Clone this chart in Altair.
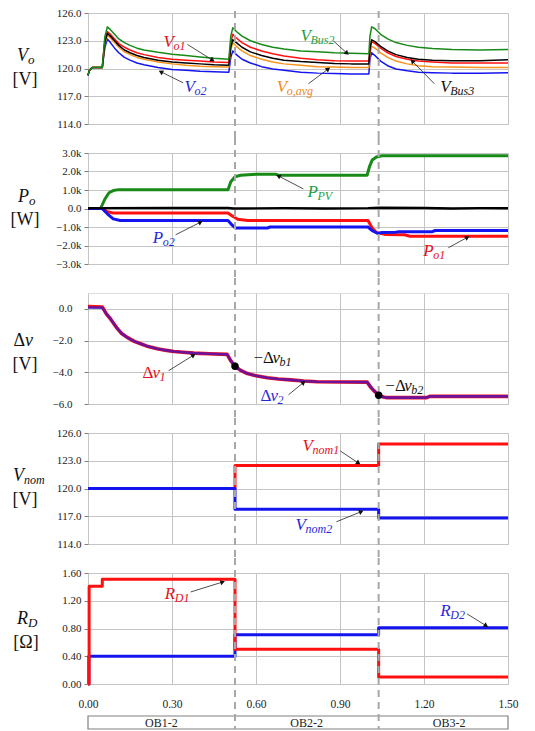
import math
import altair as alt
import pandas as pd

SERIF = "'Liberation Serif', 'Times New Roman', Times, serif"
RED, BLUE, GREEN, ORANGE, BLACK = "#FF1010", "#1414F0", "#178A17", "#F7941D", "#000000"
T_RED, T_BLUE, T_GREEN, T_ORANGE = "#E8101A", "#2828D8", "#23A047", "#F08A24"
GRID = "#c4c4c4"
BORDER = "#808080"

# ------------------------------------------------------------------ data
# panel 1 : output voltages [V]
t_vo = [0.000, 0.005, 0.015, 0.051, 0.060, 0.069, 0.080, 0.095, 0.110, 0.130, 0.150,
        0.175, 0.200, 0.250, 0.300, 0.350, 0.400, 0.450, 0.503, 0.510, 0.517, 0.530,
        0.550, 0.580, 0.620, 0.660, 0.700, 0.760, 0.820, 0.880, 0.940, 1.003, 1.007,
        1.013, 1.025, 1.045, 1.070, 1.100, 1.140, 1.180, 1.230, 1.300, 1.400, 1.500]
v_bus2 = [119.3, 119.8, 120.1, 120.1, 123.4, 124.5, 124.2, 123.7, 123.2, 122.8, 122.5,
          122.2, 122.0, 121.75, 121.55, 121.4, 121.25, 121.1, 121.0, 123.5, 124.4, 124.0,
          123.5, 123.0, 122.6, 122.3, 122.1, 121.9, 121.8, 121.7, 121.65, 121.6, 123.5,
          124.5, 124.3, 123.7, 123.2, 122.8, 122.5, 122.3, 122.15, 122.05, 122.0, 122.05]
v_o1 = [119.3, 119.8, 120.1, 120.1, 123.0, 124.0, 123.7, 123.2, 122.7, 122.3, 122.0,
        121.7, 121.5, 121.2, 121.0, 120.9, 120.8, 120.7, 120.65, 122.8, 123.7, 123.3,
        122.8, 122.3, 121.9, 121.6, 121.35, 121.1, 120.95, 120.85, 120.8, 120.8, 122.0,
        122.9, 122.7, 122.2, 121.7, 121.3, 121.0, 120.8, 120.7, 120.6, 120.6, 120.6]
v_bus3 = [119.3, 119.8, 120.1, 120.1, 122.8, 123.8, 123.5, 123.0, 122.5, 122.0, 121.7,
          121.4, 121.2, 120.9, 120.7, 120.6, 120.5, 120.4, 120.35, 122.3, 123.1, 122.8,
          122.3, 121.8, 121.4, 121.1, 120.9, 120.75, 120.65, 120.55, 120.5, 120.5, 122.2,
          123.1, 122.9, 122.4, 121.9, 121.5, 121.2, 121.0, 120.9, 120.85, 120.85, 120.95]
v_oavg = [119.3, 119.8, 120.1, 120.1, 122.6, 123.6, 123.3, 122.8, 122.3, 121.8, 121.5,
          121.2, 121.0, 120.7, 120.5, 120.35, 120.25, 120.2, 120.15, 122.0, 122.8, 122.4,
          121.9, 121.4, 121.0, 120.7, 120.5, 120.35, 120.2, 120.15, 120.1, 120.1, 121.6,
          122.4, 122.2, 121.7, 121.2, 120.8, 120.5, 120.3, 120.2, 120.15, 120.1, 120.1]
v_o2 = [119.2, 119.8, 120.1, 120.1, 122.2, 123.2, 122.8, 122.2, 121.7, 121.2, 120.9,
        120.6, 120.4, 120.1, 119.9, 119.8, 119.7, 119.65, 119.6, 121.2, 121.9, 121.5,
        121.0, 120.6, 120.2, 119.95, 119.8, 119.6, 119.5, 119.45, 119.4, 119.4, 121.0,
        121.7, 121.4, 120.8, 120.3, 119.95, 119.75, 119.6, 119.55, 119.5, 119.5, 119.55]

# panel 2 : powers [W]
t_ppv = [0, 0.045, 0.060, 0.075, 0.090, 0.110, 0.500, 0.510, 0.525, 0.545, 0.600,
         0.670, 0.680, 0.997, 1.005, 1.015, 1.030, 1.050, 1.500]
p_pv = [0, 0, 500, 850, 970, 1020, 1020, 1450, 1720, 1800, 1850,
        1850, 1800, 1800, 2250, 2620, 2780, 2850, 2850]
t_po1 = [0, 0.050, 0.070, 0.090, 0.500, 0.515, 0.535, 0.570, 1.000, 1.015, 1.030,
         1.060, 1.130, 1.150, 1.500]
p_o1 = [0, 0, -180, -240, -240, -400, -580, -650, -650, -1050, -1300,
        -1400, -1420, -1500, -1500]
t_po2 = [0, 0.050, 0.070, 0.090, 0.115, 0.500, 0.515, 0.527, 0.640, 0.650, 1.000,
         1.015, 1.035, 1.050, 1.100, 1.110, 1.230, 1.240, 1.500]
p_o2 = [0, 0, -300, -560, -650, -650, -900, -1060, -1060, -1000, -1000,
        -1200, -1350, -1300, -1280, -1250, -1250, -1190, -1190]
t_pbk = [0, 0.05, 0.30, 0.50, 0.52, 0.70, 0.85, 1.00, 1.04, 1.20, 1.30, 1.40, 1.50]
p_bk = [10, 20, 30, 30, 0, 20, 0, 20, 40, 30, 0, 20, 10]

# panel 3 : voltage deviation [V]
t_dv = [0, 0.051, 0.065, 0.081, 0.095, 0.105, 0.120, 0.140, 0.165, 0.188, 0.215,
        0.247, 0.280, 0.307, 0.340, 0.378, 0.430, 0.497, 0.509, 0.525, 0.545, 0.569,
        0.600, 0.640, 0.680, 0.723, 0.770, 0.818, 0.997, 1.010, 1.020, 1.038, 1.055,
        1.068, 1.210, 1.220, 1.500]
dv1 = [0.15, 0.12, -0.3, -0.65, -1.0, -1.25, -1.55, -1.8, -2.05, -2.2, -2.38,
       -2.52, -2.62, -2.69, -2.74, -2.79, -2.83, -2.87, -3.25, -3.62, -3.88, -4.08,
       -4.22, -4.34, -4.42, -4.48, -4.55, -4.6, -4.62, -4.95, -5.14, -5.45, -5.56,
       -5.6, -5.6, -5.52, -5.52]
dv2 = [0.08, 0.08, -0.3, -0.65, -1.0, -1.25, -1.55, -1.8, -2.05, -2.2, -2.38,
       -2.52, -2.62, -2.69, -2.74, -2.79, -2.83, -2.87, -3.25, -3.62, -3.88, -4.08,
       -4.22, -4.34, -4.42, -4.48, -4.55, -4.6, -4.62, -4.95, -5.14, -5.45, -5.56,
       -5.6, -5.6, -5.52, -5.52]
t_dvb = [0.525, 1.038]
dvb = [-3.62, -5.45]

# panel 4 : nominal voltages [V]
t_nom = [0, 0.525, 1.038, 1.5]
v_nom1 = [120.0, 122.5, 124.8, 124.8]
v_nom2 = [120.0, 117.75, 116.8, 116.8]

# panel 5 : droop resistances [Ohm]
t_rd1 = [0, 0.004, 0.051, 0.525, 1.038, 1.5]
r_d1 = [0, 1.41, 1.51, 0.50, 0.10, 0.10]
t_rd2 = [0, 0.003, 0.525, 1.038, 1.5]
r_d2 = [0, 0.40, 0.71, 0.81, 0.81]

t_switch = [0.525, 1.038]
ob_labels = ["OB1-2", "OB2-2", "OB3-2"]
ob_mid = [0.262, 0.781, 1.29]

x_ticks = [0, 0.3, 0.6, 0.9, 1.2, 1.5]

# ------------------------------------------------------------------ layout
W, H, GAP = 420, 111, 29
PX_T = W / 1.5
I, N = "italic", "normal"


def xenc(bottom=False):
    if bottom:
        ax = alt.Axis(values=x_ticks, format=".2f", title=None, grid=True, gridColor=GRID,
                      ticks=False, domain=False, labelPadding=14, labelFont=SERIF,
                      labelFontSize=11.5, labelColor="#222", labelFlush=False,
                      labelOverlap=False)
    else:
        ax = alt.Axis(values=x_ticks, labels=False, ticks=False, domain=False, title=None,
                      grid=True, gridColor=GRID)
    return alt.X("t:Q", scale=alt.Scale(domain=[0, 1.5], nice=False, zero=False), axis=ax)


def yenc(domain, values, fmt=None, expr=None, pad=3):
    kw = dict(values=values, title=None, grid=True, gridColor=GRID, domain=False,
              ticks=True, tickSize=4, tickColor=BORDER, labelFont=SERIF, labelFontSize=11,
              labelColor="#222", labelPadding=pad, labelFlush=False, labelOverlap=False)
    if fmt:
        kw["format"] = fmt
    if expr:
        kw["labelExpr"] = expr
    return alt.Y("v:Q", scale=alt.Scale(domain=domain, nice=False, zero=False), axis=alt.Axis(**kw))


def line(ts, vs, color, X, Y, width=2.8, interp="linear", opacity=1.0):
    df = pd.DataFrame({"t": ts, "v": vs})
    return alt.Chart(df).mark_line(color=color, strokeWidth=width, interpolate=interp,
                                   opacity=opacity, strokeJoin="round").encode(x=X, y=Y)


def switch_rules(X, top=-15, bottom=H + 14):
    df = pd.DataFrame({"t": t_switch})
    return alt.Chart(df).mark_rule(color="#a8a8a8", strokeWidth=2, strokeDash=[7, 5]).encode(
        x=X, y=alt.value(top), y2=alt.value(bottom))


def annotation(X, Y, pxv, t, v, pieces, color, a0=None, a1=None):
    layers = []
    df = pd.DataFrame({"t": [t], "v": [v]})
    for txt, dx, dy, size, style in pieces:
        layers.append(alt.Chart(df).mark_text(text=txt, dx=dx, dy=dy, fontSize=size,
                                              fontStyle=style, font=SERIF, align="left",
                                              baseline="middle", color=color)
                      .encode(x=X, y=Y))
    if a0 is not None:
        adf = pd.DataFrame({"t": [a0[0]], "v": [a0[1]], "t2": [a1[0]], "v2": [a1[1]]})
        layers.append(alt.Chart(adf).mark_rule(color="#222", strokeWidth=0.8).encode(
            x=X, y=Y, x2="t2:Q", y2="v2:Q"))
        ang = math.degrees(math.atan2((a1[0] - a0[0]) * PX_T, (a1[1] - a0[1]) * pxv)) % 360
        hdf = pd.DataFrame({"t": [a1[0]], "v": [a1[1]]})
        layers.append(alt.Chart(hdf).mark_point(shape="triangle-up", filled=True, size=28,
                                                color="#111", opacity=1, angle=ang)
                      .encode(x=X, y=Y))
    return layers


def ytitle(pieces):
    layers = []
    d = pd.DataFrame({"a": [0]})
    for txt, x, y, size, style, align in pieces:
        layers.append(alt.Chart(d).mark_text(text=txt, fontSize=size, fontStyle=style,
                                             font=SERIF, align=align, baseline="middle",
                                             color="#111")
                      .encode(x=alt.value(x), y=alt.value(y)))
    return layers


# ---------------- panel 1
X = xenc()
Y = yenc([114, 126], [114, 117, 120, 123, 126], fmt=".1f")
pxv = H / 12
p1 = [line(t_vo, v_o2, BLUE, X, Y, 1.5), line(t_vo, v_oavg, ORANGE, X, Y, 1.5),
      line(t_vo, v_o1, RED, X, Y, 1.5), line(t_vo, v_bus3, BLACK, X, Y, 1.5),
      line(t_vo, v_bus2, GREEN, X, Y, 1.5), switch_rules(X, top=-2)]
p1 += annotation(X, Y, pxv, 0.27, 122.9, [("V", 0, 0, 17, I), ("o1", 10, 4, 12, I)], T_RED,
                 (0.355, 122.6), (0.445, 120.9))
p1 += annotation(X, Y, pxv, 0.345, 118.05, [("V", 0, 0, 17, I), ("o2", 10, 4, 12, I)], T_BLUE,
                 (0.34, 118.45), (0.26, 119.65))
p1 += annotation(X, Y, pxv, 0.759, 123.5, [("V", 0, 0, 17, I), ("Bus2", 10, 4, 12, I)], T_GREEN,
                 (0.876, 123.0), (0.925, 121.65))
p1 += annotation(X, Y, pxv, 0.674, 118.05, [("V", 0, 0, 17, I), ("o,avg", 10, 4, 12, I)], T_ORANGE,
                 (0.787, 118.35), (0.858, 119.95))
p1 += annotation(X, Y, pxv, 1.258, 118.05, [("V", 0, 0, 17, I), ("Bus3", 10, 4, 12, I)], "#111",
                 (1.237, 118.35), (1.158, 120.8))
p1 += ytitle([("V", -60, 43, 18, I, "right"), ("o", -60, 47, 13, I, "left"),
              ("[V]", -63, 67, 18, N, "center")])
panel1 = alt.layer(*p1).properties(width=W, height=H)

# ---------------- panel 2
Y = yenc([-3000, 3000], [-3000, -2000, -1000, 0, 1000, 2000, 3000],
         expr="datum.value == 0 ? '0.0' : format(datum.value / 1000, '.1f') + 'k'")
pxv = H / 6000
p2 = [line(t_ppv, p_pv, GREEN, X, Y, 3), line(t_po1, p_o1, RED, X, Y, 3),
      line(t_po2, p_o2, BLUE, X, Y, 3), line(t_pbk, p_bk, BLACK, X, Y, 2.4), switch_rules(X)]
p2 += annotation(X, Y, pxv, 0.784, 900, [("P", 0, 0, 17, I), ("PV", 10, 4, 12, I)], T_GREEN,
                 (0.769, 1060), (0.68, 1760))
p2 += annotation(X, Y, pxv, 0.231, -1580, [("P", 0, 0, 17, I), ("o2", 10, 4, 12, I)], T_BLUE,
                 (0.313, -1420), (0.402, -740))
p2 += annotation(X, Y, pxv, 1.197, -2280, [("P", 0, 0, 17, I), ("o1", 10, 4, 12, I)], T_RED,
                 (1.287, -2120), (1.355, -1560))
p2 += ytitle([("P", -59, 44, 18, I, "right"), ("o", -59, 48, 13, I, "left"),
              ("[W]", -63, 67, 18, N, "center")])
panel2 = alt.layer(*p2).properties(width=W, height=H)

# ---------------- panel 3
Y = yenc([-6, 1], [-6, -4, -2, 0], fmt=".1f", pad=12)
pxv = H / 7
p3 = [line(t_dv, dv1, RED, X, Y, 3.6), line(t_dv, dv2, BLUE, X, Y, 2.6, opacity=0.62),
      switch_rules(X)]
p3.append(alt.Chart(pd.DataFrame({"t": t_dvb, "v": dvb})).mark_circle(size=55, color="#000", opacity=1)
          .encode(x=X, y=Y))
p3 += annotation(X, Y, pxv, 0.195, -4.03, [("Δ", 0, 0, 17, N), ("v", 10, 0, 17, I), ("1", 17, 4, 12, I)],
                 T_RED, (0.288, -3.9), (0.377, -2.92))
p3 += annotation(X, Y, pxv, 0.616, -5.48, [("Δ", 0, 0, 17, N), ("v", 10, 0, 17, I), ("2", 17, 4, 12, I)],
                 T_BLUE, (0.716, -5.42), (0.77, -4.64))
p3 += annotation(X, Y, pxv, 0.591, -3.12, [("−Δ", 0, 0, 17, N), ("v", 19, 0, 17, I), ("b1", 26, 4, 12, I)],
                 "#111")
p3 += annotation(X, Y, pxv, 1.062, -4.85, [("−Δ", 0, 0, 17, N), ("v", 19, 0, 17, I), ("b2", 26, 4, 12, I)],
                 "#111")
p3 += ytitle([("Δ", -63, 48, 18, N, "right"), ("v", -63, 48, 18, I, "left"),
              ("[V]", -63, 72, 18, N, "center")])
panel3 = alt.layer(*p3).properties(width=W, height=H)

# ---------------- panel 4
Y = yenc([114, 126], [114, 117, 120, 123, 126], fmt=".1f")
pxv = H / 12
p4 = [line(t_nom, v_nom1, RED, X, Y, 3, "step-after"),
      line(t_nom, v_nom2, BLUE, X, Y, 3, "step-after"), switch_rules(X)]
p4 += annotation(X, Y, pxv, 0.766, 124.6, [("V", 0, 0, 17, I), ("nom1", 10, 4, 12, I)], T_RED,
                 (0.901, 124.06), (0.966, 122.75))
p4 += annotation(X, Y, pxv, 0.741, 116.1, [("V", 0, 0, 17, I), ("nom2", 10, 4, 12, I)], T_BLUE,
                 (0.887, 116.4), (0.976, 117.5))
p4 += ytitle([("V", -64, 43, 18, I, "right"), ("nom", -64, 47, 12, I, "left"),
              ("[V]", -63, 67, 18, N, "center")])
panel4 = alt.layer(*p4).properties(width=W, height=H)

# ---------------- panel 5
X = xenc(bottom=True)
Y = yenc([0, 1.6], [0, 0.4, 0.8, 1.2, 1.6], fmt=".2f")
pxv = H / 1.6
bar_df = pd.DataFrame({"t": [0.0], "t2": [1.5]})
p5 = [line(t_rd2, r_d2, BLUE, X, Y, 3, "step-after"),
      line(t_rd1, r_d1, RED, X, Y, 3, "step-after"),
      alt.Chart(bar_df).mark_rect(fill="white", stroke=BORDER, strokeWidth=1.2).encode(
          x=X, x2="t2:Q", y=alt.value(143), y2=alt.value(156)),
      switch_rules(X, bottom=156),
      alt.Chart(pd.DataFrame({"t": ob_mid, "lab": ob_labels})).mark_text(
          font=SERIF, fontSize=12, color="#222", baseline="middle").encode(
          x=X, y=alt.value(150), text="lab:N")]
p5 += annotation(X, Y, pxv, 0.274, 1.30, [("R", 0, 0, 17, I), ("D1", 10, 4, 12, I)], T_RED,
                 (0.367, 1.327), (0.481, 1.47))
p5 += annotation(X, Y, pxv, 1.258, 1.054, [("R", 0, 0, 17, I), ("D2", 10, 4, 12, I)], T_BLUE,
                 (1.354, 1.01), (1.422, 0.84))
p5 += ytitle([("R", -60, 46, 18, I, "right"), ("D", -60, 50, 13, I, "left"),
              ("[Ω]", -62, 70, 18, N, "center")])
panel5 = alt.layer(*p5).properties(width=W, height=H)

chart = alt.vconcat(panel1, panel2, panel3, panel4, panel5, spacing=GAP, bounds="flush").properties(
    padding={"top": 6, "left": 10, "right": 10, "bottom": 0}
).configure_view(stroke=BORDER, strokeWidth=1.5).configure(background="white")

chart.save("out.html", embed_options={"renderer": "svg", "actions": False})
